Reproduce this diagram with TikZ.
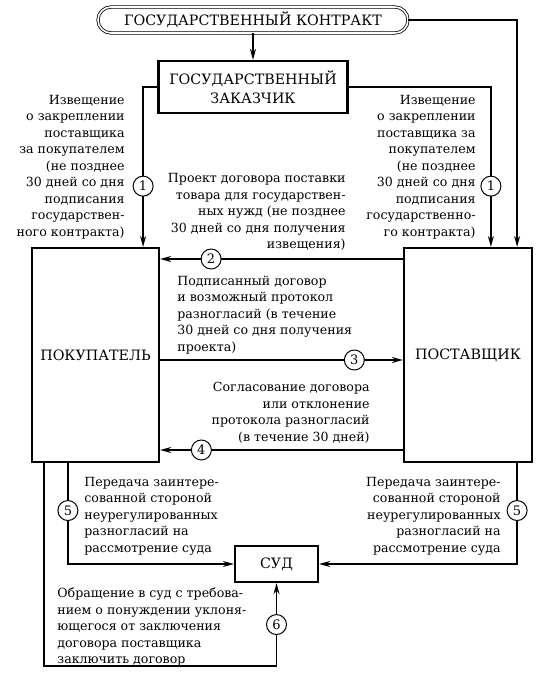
\documentclass[tikz,border=0pt]{standalone}
\usepackage{fontspec}
\setmainfont{DejaVu Serif}
\usetikzlibrary{arrows.meta}

\begin{document}
\begin{tikzpicture}[x=1pt, y=-1pt, thick,
  box node/.style={draw, line width=2.2pt, inner sep=0pt, align=center, font=\fontsize{14.3}{19}\selectfont},
  num node/.style={circle, draw, fill=white, line width=1pt, inner sep=0pt, minimum size=20pt, font=\fontsize{13}{13}\selectfont},
  note/.style={inner sep=0pt, font=\fontsize{12.6}{16.5}\selectfont},
  link/.style={line width=1.5pt, -{Stealth[length=11pt, width=6pt]}},
  main link/.style={link, line width=2pt}]
   \useasboundingbox (0,0) rectangle (544,680);

   % boxes
   \node[box node, rounded corners=13pt, double, double distance=1.6pt, line width=0.8pt, minimum width=310pt, minimum height=26pt] (kontrakt) at (253,20) {ГОСУДАРСТВЕННЫЙ КОНТРАКТ};
   \node[box node, minimum width=189pt, minimum height=52pt] (zakazchik) at (253,87) {ГОСУДАРСТВЕННЫЙ\\ЗАКАЗЧИК};
   \node[box node, minimum width=127pt, minimum height=214pt] (pokupatel) at (95.5,355) {ПОКУПАТЕЛЬ};
   \node[box node, minimum width=128pt, minimum height=214pt] (postavshik) at (468,355) {ПОСТАВЩИК};
   \node[box node, minimum width=83pt, minimum height=36pt] (sud) at (276.5,564) {СУД};

   \coordinate (y2) at (0,259);
   \coordinate (y3) at (0,360);
   \coordinate (y4) at (0,450);
   \coordinate (y6) at (0,666);

   % connectors
   \draw[link] (kontrakt.east) -| ([xshift=-16pt]postavshik.north east);
   \draw[link] (kontrakt.south) -- (zakazchik.north);
   \draw[link] (zakazchik.west) -| ([xshift=-17pt]pokupatel.north east) node[num node, pos=0.81] {1};
   \draw[link] (zakazchik.east) -| ([xshift=88pt]postavshik.north west) node[num node, pos=0.81] {1};
   \draw[main link] (postavshik.west |- y2) -- (pokupatel.east |- y2) node[num node, pos=0.79] {2};
   \draw[main link] (pokupatel.east |- y3) -- (postavshik.west |- y3) node[num node, pos=0.8] {3};
   \draw[main link] (postavshik.west |- y4) -- (pokupatel.east |- y4) node[num node, pos=0.83] {4};
   \draw[link] ([xshift=37pt]pokupatel.south west) |- (sud.west) node[num node, pos=0.235] {5};
   \draw[link] ([xshift=-16pt]postavshik.south east) |- (sud.east) node[num node, pos=0.235] {5};
   \draw[link] ([xshift=13pt]pokupatel.south west) |- (sud.south |- y6) -- (sud.south) node[num node, pos=0.5] {6};

   % labels
   \node[note, anchor=east, align=right] (t1l) at (125,167) {Извещение\\о закреплении\\поставщика\\за покупателем\\(не позднее\\30 дней со дня\\подписания\\государствен-\\ного контракта)};
   \node[note, anchor=east, align=right] (t1r) at (476,167) {Извещение\\о закреплении\\поставщика за\\покупателем\\(не позднее\\30 дней со дня\\подписания\\государственно-\\го контракта)};
   \node[note, anchor=east, align=right] (t2) at (346,212) {Проект договора поставки\\товара для государствен-\\ных нужд (не позднее\\30 дней со дня получения\\извещения)};
   \node[note, anchor=west, align=left] (t3) at (177,315) {Подписанный договор\\и возможный протокол\\разногласий (в течение\\30 дней со дня получения\\проекта)};
   \node[note, anchor=east, align=right] (t4) at (370,413) {Согласование договора\\или отклонение\\протокола разногласий\\(в течение 30 дней)};
   \node[note, anchor=west, align=left] (t5l) at (84,516) {Передача заинтере-\\сованной стороной\\неурегулированных\\разногласий на\\рассмотрение суда};
   \node[note, anchor=east, align=right] (t5r) at (501,516) {Передача заинтере-\\сованной стороной\\неурегулированных\\разногласий на\\рассмотрение суда};
   \node[note, anchor=west, align=left] (t6) at (57,627) {Обращение в суд с требова-\\нием о понуждении уклоня-\\ющегося от заключения\\договора поставщика\\заключить договор};
\end{tikzpicture}
\end{document}
